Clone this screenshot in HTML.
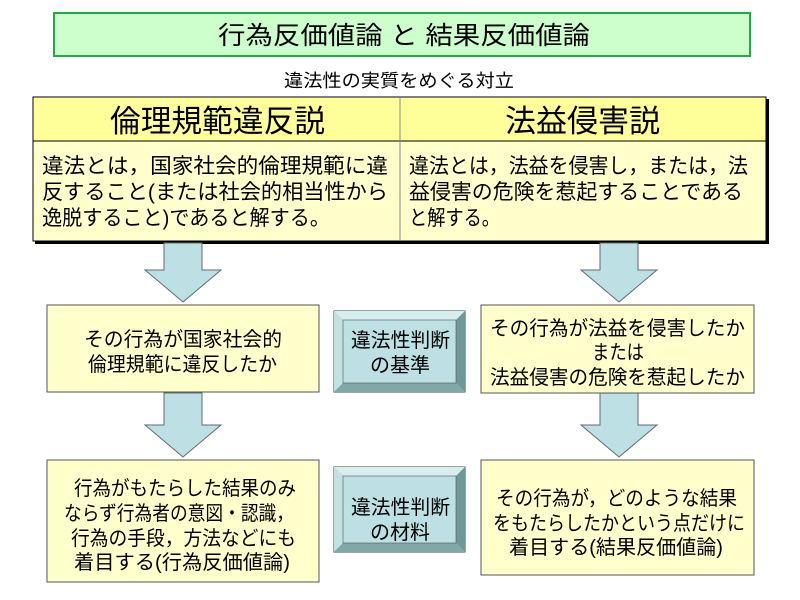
<!DOCTYPE html>
<html><head><meta charset="utf-8"><style>
body{margin:0;background:#fff;}
svg{display:block;}
text{font-family:"Liberation Sans","Noto Sans CJK JP",sans-serif;fill:#000;}
</style></head><body>
<svg width="800" height="600" viewBox="0 0 800 600" xmlns="http://www.w3.org/2000/svg">
<rect x="54" y="13" width="696" height="43" fill="#ccffcc" stroke="#22aa44" stroke-width="2"/>
<text x="218" y="44" font-size="25" textLength="372" lengthAdjust="spacingAndGlyphs">行為反価値論 と 結果反価値論</text>
<text x="284" y="87" font-size="18" textLength="230" lengthAdjust="spacingAndGlyphs">違法性の実質をめぐる対立</text>
<rect x="35" y="99" width="734" height="145" fill="#000"/>
<rect x="33" y="97" width="733" height="144" fill="#ffffcc" stroke="#000" stroke-width="1"/>
<rect x="34" y="98" width="731" height="43" fill="#ffff99"/>
<line x1="33" y1="141" x2="766" y2="141" stroke="#000"/>
<line x1="400" y1="97" x2="400" y2="241" stroke="#888"/>
<text x="110" y="132" font-size="31" textLength="215" lengthAdjust="spacingAndGlyphs">倫理規範違反説</text>
<text x="505" y="132" font-size="31" textLength="155" lengthAdjust="spacingAndGlyphs">法益侵害説</text>
<g font-size="21" lengthAdjust="spacingAndGlyphs">
<text x="42" y="173" textLength="346" lengthAdjust="spacingAndGlyphs">違法とは，国家社会的倫理規範に違</text>
<text x="42" y="199" textLength="346" lengthAdjust="spacingAndGlyphs">反すること(または社会的相当性から</text>
<text x="42" y="225" textLength="288" lengthAdjust="spacingAndGlyphs">逸脱すること)であると解する。</text>
<text x="409" y="173" textLength="339" lengthAdjust="spacingAndGlyphs">違法とは，法益を侵害し，または，法</text>
<text x="409" y="199" textLength="334" lengthAdjust="spacingAndGlyphs">益侵害の危険を惹起することである</text>
<text x="409" y="225" textLength="91" lengthAdjust="spacingAndGlyphs">と解する。</text>
</g>
<g fill="#bde0e4" stroke="#667" stroke-width="1">
<polygon points="164,243 202,243 202,270 221,270 183,302 145,270 164,270"/>
<polygon points="600,243 638,243 638,270 657,270 619,302 581,270 600,270"/>
<polygon points="164,393 202,393 202,425 221,425 183,457 145,425 164,425"/>
<polygon points="600,393 638,393 638,425 657,425 619,457 581,425 600,425"/>
</g>
<g fill="#ffffcc" stroke="#555" stroke-width="1">
<rect x="47" y="305" width="272" height="87"/>
<rect x="481" y="305" width="273" height="88"/>
<rect x="47" y="460" width="272" height="122"/>
<rect x="481" y="460" width="273" height="115"/>
</g>
<g>
<rect x="334" y="311" width="131" height="81" fill="#9cc4c4" stroke="#444"/>
<polygon points="334,311 465,311 456,320 343,320" fill="#d8eeee"/>
<polygon points="334,311 343,320 343,383 334,392" fill="#c4e0e0"/>
<polygon points="465,311 465,392 456,383 456,320" fill="#6f9898"/>
<polygon points="334,392 465,392 456,383 343,383" fill="#7fa8a8"/>
<rect x="343" y="320" width="113" height="63" fill="#bde0e4" stroke="#555" stroke-width="0.6"/>
</g>
<g>
<rect x="334" y="467" width="131" height="85" fill="#9cc4c4" stroke="#444"/>
<polygon points="334,467 465,467 456,476 343,476" fill="#d8eeee"/>
<polygon points="334,467 343,476 343,543 334,552" fill="#c4e0e0"/>
<polygon points="465,467 465,552 456,543 456,476" fill="#6f9898"/>
<polygon points="334,552 465,552 456,543 343,543" fill="#7fa8a8"/>
<rect x="343" y="476" width="113" height="67" fill="#bde0e4" stroke="#555" stroke-width="0.6"/>
</g>
<g font-size="20">
<text x="351" y="347" textLength="99" lengthAdjust="spacingAndGlyphs">違法性判断</text>
<text x="370" y="372" textLength="60" lengthAdjust="spacingAndGlyphs">の基準</text>
<text x="351" y="514" textLength="99" lengthAdjust="spacingAndGlyphs">違法性判断</text>
<text x="370" y="539" textLength="60" lengthAdjust="spacingAndGlyphs">の材料</text>
<text x="84" y="346" textLength="198" lengthAdjust="spacingAndGlyphs">その行為が国家社会的</text>
<text x="88" y="371" textLength="189" lengthAdjust="spacingAndGlyphs">倫理規範に違反したか</text>
<text x="490" y="335" textLength="255" lengthAdjust="spacingAndGlyphs">その行為が法益を侵害したか</text>
<text x="592" y="359" textLength="52" lengthAdjust="spacingAndGlyphs">または</text>
<text x="490" y="384" textLength="255" lengthAdjust="spacingAndGlyphs">法益侵害の危険を惹起したか</text>
<text x="74" y="495" textLength="222" lengthAdjust="spacingAndGlyphs">行為がもたらした結果のみ</text>
<text x="64" y="520" textLength="230" lengthAdjust="spacingAndGlyphs">ならず行為者の意図・認識，</text>
<text x="71" y="545" textLength="225" lengthAdjust="spacingAndGlyphs">行為の手段，方法などにも</text>
<text x="74" y="569" textLength="216" lengthAdjust="spacingAndGlyphs">着目する(行為反価値論)</text>
<text x="496" y="505" textLength="241" lengthAdjust="spacingAndGlyphs">その行為が，どのような結果</text>
<text x="493" y="530" textLength="252" lengthAdjust="spacingAndGlyphs">をもたらしたかという点だけに</text>
<text x="509" y="554" textLength="214" lengthAdjust="spacingAndGlyphs">着目する(結果反価値論)</text>
</g>
</svg>
</body></html>
